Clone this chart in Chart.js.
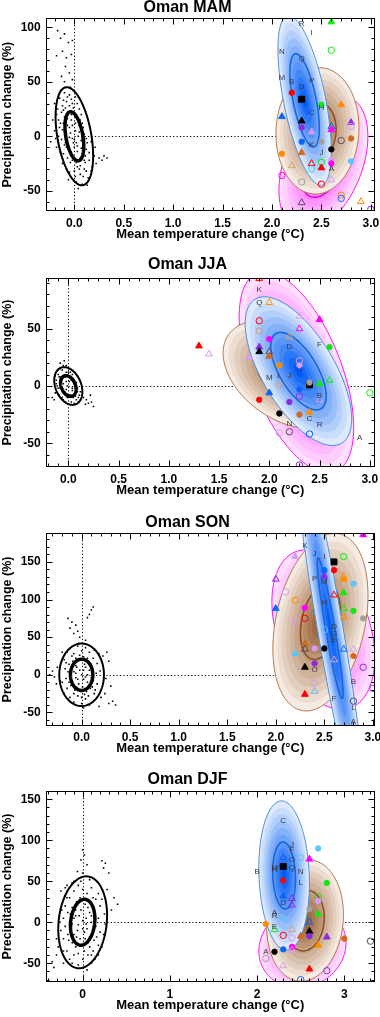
<!DOCTYPE html>
<html lang="en">
<head>
<meta charset="UTF-8">
<title>Oman seasonal temperature and precipitation change</title>
<script src="https://cdn.jsdelivr.net/npm/chart.js@4"></script>
<style>
  body { margin: 0; background: #fff; width: 380px; height: 1017px; overflow: hidden; position: relative; }
  .panel { position: absolute; left: 0; width: 380px; }
  canvas { display: block; }
</style>
</head>
<body>
<div class="panel" id="p0"><canvas id="c0"></canvas></div>
<div class="panel" id="p1"><canvas id="c1"></canvas></div>
<div class="panel" id="p2"><canvas id="c2"></canvas></div>
<div class="panel" id="p3"><canvas id="c3"></canvas></div>

<script>
const FONT = '"Liberation Sans", Arial, Helvetica, sans-serif';

// ---- axes (ranges and tick labels) ----
const seasons = ['MAM', 'JJA', 'SON', 'DJF'];
const xRanges = [[-0.29, 3.04], [-0.225, 3.05], [-0.37, 3.02], [-0.424, 3.35]];
const yRanges = [[-68.6, 108.3], [-70.8, 94.4], [-67.6, 188], [-72.8, 160]];
const xTicksHalf = [0, 0.5, 1, 1.5, 2, 2.5, 3];
const xTicksWhole = [0, 1, 2, 3];
const yTicks100 = [-50, 0, 50, 100];
const yTicks50 = [-50, 0, 50];
const yTicks150 = [-50, 0, 50, 100, 150];

// ---- ellipses: [cx, cy, sx, sy, r, inner contour level] ----
// order: natural variability (black), magenta, brown, blue
const mamEll = [[0, 0, 0.19, 45, -0.4, 0.5], [2.52, -25, 0.45, 62, 0.4, 0.5], [2.46, 5, 0.42, 58, 0.05, 0.45], [2.33, 33, 0.27, 78, -0.6, 0.55]];
const jjaEll = [[0, 0, 0.14, 16.5, -0.3, 0.55], [2.27, 12, 0.57, 88, -0.55, 0.5], [2.15, 10, 0.61, 47, -0.4, 0.45], [2.29, 13, 0.53, 65, -0.64, 0.52]];
const sonEll = [[0, 0, 0.23, 41.5, 0, 0.5], [2.49, 60, 0.53, 106, -0.35, 0.5], [2.46, 70, 0.49, 118, 0.3, 0.42], [2.56, 62, 0.37, 260, -0.933, 0.36]];
const djfEll = [[0, 0, 0.28, 56, 0.15, 0.5], [2.52, -30, 0.5, 50, 0.1, 0.5], [2.55, 2, 0.44, 74, 0.1, 0.5], [2.31, 57, 0.29, 91, -0.1, 0.45]];

// ---- natural variability samples ----
const mamNoise = [[-0.17,97],[-0.14,90],[-0.1,94],[-0.06,86],[-0.02,88],[-0.12,78],[-0.18,74],[-0.08,72],[-0.03,75],[-0.09,64],[-0.05,58],[-0.13,55],[-0.1,50],[-0.02,52],
  [-0.2,30],[-0.18,20],[-0.15,35],[-0.12,28],[-0.1,40],[-0.08,32],[-0.05,38],[-0.02,30],[0.0,42],[-0.14,12],[-0.1,18],[-0.06,22],[-0.03,15],[0.02,20],[0.05,25],[0.08,12],
  [-0.2,5],[-0.16,0],[-0.12,6],[-0.08,2],[-0.05,8],[-0.02,-2],[0.01,5],[0.04,0],[0.07,-4],[0.1,2],[0.13,-6],[-0.18,-10],[-0.14,-15],[-0.1,-8],[-0.06,-12],[-0.03,-18],
  [0.0,-10],[0.03,-14],[0.06,-20],[0.09,-16],[0.12,-12],[0.15,-22],[-0.12,-25],[-0.08,-30],[-0.04,-24],[0.0,-32],[0.03,-28],[0.06,-35],[0.1,-30],[0.14,-38],[-0.06,-40],
  [0.02,-42],[0.08,-44],[0.18,-28],[0.2,-18],[0.22,-25],[0.25,-20],[0.28,-22],[0.3,-18],[0.33,-20],[0.21,-10],[0.17,-5],[-0.22,15],[-0.24,-5],[0.05,10],[-0.04,3],
  [0.02,-6],[-0.09,-3],[0.06,15],[-0.01,26],[-0.07,10],[0.04,-22],[-0.11,24],[0.11,-24],
  [-0.11,33],[-0.07,36],[-0.03,34],[0.01,36],[-0.13,22],[-0.09,26],[-0.05,28],[-0.01,21],[0.03,30],[0.07,20],[-0.15,8],[-0.11,12],[-0.07,16],[-0.03,20],[0.01,12],
  [0.05,4],[0.09,8],[0.12,-2],[-0.13,-3],[-0.09,-6],[-0.05,-1],[-0.01,-6],[0.03,-9],[0.07,-11],[0.11,-18],[-0.11,-16],[-0.07,-20],[-0.02,-22],[0.02,-24],[0.06,-27],
  [0.1,-22],[-0.05,-33],[0.01,-37],[0.05,-30],[0.09,-37],[0.12,-32],[-0.16,15],[-0.17,25],[-0.19,-2],[0.15,-15],[0.17,-32],[-0.14,42],[-0.04,45],[0.04,-48],[0.13,-45],
  [-0.02,10],[0.0,-3],[-0.08,-10],[0.08,-2],[-0.04,-14]];
const jjaNoise = [[-0.12,5],[-0.1,10],[-0.08,15],[-0.05,18],[-0.02,12],[0.0,8],[0.03,5],[0.06,2],[0.09,-2],[0.12,-5],[-0.1,-2],[-0.07,3],[-0.04,-5],[-0.01,0],[0.02,-8],
  [0.05,-10],[0.08,-12],[0.11,-8],[-0.06,-10],[-0.03,-14],[0.0,-16],[0.04,-4],[-0.09,8],[-0.13,-6],[-0.16,-10],[-0.14,-12],[0.15,-10],[0.18,-12],[0.2,-15],[0.23,-14],
  [0.25,-18],[0.22,-8],[0.17,-16],[-0.04,22],[-0.08,20],[0.06,12],[0.01,15],[-0.02,4],[0.07,-6],[-0.06,6],[-0.11,0],[0.1,-14],[-0.03,8],[0.04,10],
  [-0.1,14],[-0.06,14],[-0.02,18],[0.02,12],[0.05,6],[0.08,3],[-0.12,2],[-0.08,-2],[-0.05,2],[-0.02,-3],[0.01,4],[0.04,-2],[0.07,-9],[0.1,-10],[-0.09,-8],
  [-0.05,-12],[-0.01,-10],[0.03,-14],[0.06,-15],[-0.13,9],[0.12,-12],[0.0,12],[-0.07,8],[0.09,-5]];
const sonNoise = [[-0.14,75],[-0.1,70],[-0.06,66],[-0.12,62],[-0.04,58],[-0.08,55],[0.08,80],[0.1,86],[0.12,90],[0.06,76],[-0.02,50],[0.04,46],
  [-0.3,5],[-0.28,-3],[-0.25,10],[-0.33,0],[-0.22,-8],[-0.26,-12],[0.22,25],[0.26,30],[0.28,18],[0.25,-5],[0.3,-15],[0.24,-25],[0.32,-35],[0.28,-38],[0.2,-30],[0.35,-40],[0.18,-42],
  [-0.18,20],[-0.15,30],[-0.12,35],[-0.08,28],[-0.04,38],[0.0,32],[0.04,36],[0.08,30],[0.12,22],[0.16,15],[-0.17,8],[-0.13,14],[-0.09,18],[-0.05,10],[-0.01,20],[0.03,14],
  [0.07,18],[0.11,8],[0.15,2],[-0.16,-5],[-0.12,-2],[-0.08,4],[-0.04,-6],[0.0,0],[0.04,-3],[0.08,6],[0.12,-8],[0.16,-12],[-0.15,-18],[-0.11,-14],[-0.07,-20],[-0.03,-12],
  [0.01,-16],[0.05,-22],[0.09,-18],[0.13,-25],[-0.12,-30],[-0.08,-36],[-0.04,-28],[0.0,-38],[0.04,-32],[0.08,-40],[-0.2,-10],[0.19,5],[-0.06,12],[0.02,6],[-0.1,-8],[0.06,-10],
  [-0.1,25],[-0.06,22],[-0.02,26],[0.02,24],[0.06,22],[0.1,14],[-0.14,4],[-0.1,8],[-0.06,2],[-0.02,6],[0.02,-6],[0.06,0],[0.1,-4],[-0.13,-10],[-0.09,-14],[-0.05,-17],
  [-0.01,-22],[0.03,-26],[0.07,-28],[0.11,-16],[-0.08,-25],[0.0,-30],[0.14,-20],[-0.18,-25],[-0.2,30],[0.18,28],[0.2,-20],[-0.03,42],[0.02,-44],[-0.14,-32],[0.13,33],
  [-0.06,-4],[0.04,10],[-0.16,16]];
const djfNoise = [[0.0,88],[0.02,82],[-0.02,76],[0.05,70],[-0.06,62],[0.0,60],[-0.12,48],[-0.2,42],[-0.25,38],[-0.18,30],[0.22,75],[0.26,72],[0.24,66],[0.3,60],[0.36,30],
  [0.4,22],[0.33,15],[0.28,40],[-0.3,-40],[-0.35,-48],[-0.33,-55],[-0.28,-30],[-0.22,-50],[-0.15,-45],[0.1,-50],[0.05,-58],[0.18,-40],[0.22,-30],
  [-0.2,20],[-0.15,30],[-0.1,38],[-0.05,45],[0.0,40],[0.05,35],[0.1,42],[0.15,28],[0.2,20],[0.25,10],[-0.22,5],[-0.17,12],[-0.12,18],[-0.07,25],[-0.02,15],[0.03,22],
  [0.08,12],[0.13,18],[0.18,5],[-0.25,-10],[-0.2,-5],[-0.15,0],[-0.1,5],[-0.05,-3],[0.0,2],[0.05,-8],[0.1,0],[0.15,-5],[0.2,-12],[-0.22,-20],[-0.17,-15],[-0.12,-25],
  [-0.07,-18],[-0.02,-28],[0.03,-20],[0.08,-30],[0.13,-22],[0.18,-28],[-0.18,-35],[-0.1,-40],[-0.05,-38],[0.0,-45],[0.06,-40],[0.12,-35],[-0.08,8],[0.02,-12],[-0.14,-8],[0.11,-15],
  [-0.18,45],[-0.1,50],[0.08,52],[0.12,30],[0.18,35],[0.22,28],[-0.2,32],[-0.24,15],[-0.14,10],[-0.08,15],[-0.03,30],[0.02,28],[0.06,18],[0.1,8],[0.14,12],[-0.12,-2],
  [-0.06,-10],[0.0,-8],[0.04,-2],[0.08,-18],[0.12,-8],[-0.16,-22],[-0.08,-30],[-0.03,-20],[0.02,-35],[0.06,-25],[0.1,-40],[-0.22,-35],[-0.12,-50],[-0.05,-52],[0.14,-45],
  [0.24,-15],[0.26,-2],[-0.26,0],[-0.3,-20],[-0.02,50],[0.04,5],[-0.1,-15],[0.16,-18],[-0.04,8]];

// ---- model results: [model marker, temperature change, precipitation change] ----
const mamMarks = [['tGreen',2.6,105],['oGreen',2.6,79],['cRed',2.2,40],['sBlack',2.3,34],['cGreen',2.5,29],['tOrange',2.7,29],['tBlue',2.1,18],['tBlack',2.3,14],
  ['tPurple',2.8,12.5],['cPurple',2.3,8],['tPlum',2.4,4],['vBlue',2.6,9],['tMagenta',2.6,6],['oPlum',2.8,9],['oDark',2.7,-4],['cBrown',2.8,-2],['cBlue',2.3,-5],
  ['cGray',2.5,-5],['cBlack',2.6,-12],['cOrange',2.1,-16],['tBrown',2.3,-15],['cSky',2.8,-23],['vRed',2.4,-25],['oGreen',2.5,-24],['cPlum',2.6,-22],['cMagenta',2.6,-25],
  ['tRed',2.5,-29],['vTan',2.2,-27],['oSky',2.4,-30],['vPlum',2.6,-40],['oMagenta',2.1,-36],['oGray',2.3,-42],['oRed',2.5,-44],['oOrange',2.7,-54],['oBlue',2.7,-57],
  ['vDark',2.3,-61],['vOrange',2.9,-60],['oPurple',3.0,-67]];
const jjaMarks = [['tRed',1.3,35],['vPlum',1.4,28],['vRed',1.9,94],['vOrange',2.0,73],['oRed',1.9,57],['oTan',1.9,48],['vPlum',2.3,61],['vMagenta',2.3,50],
  ['tMagenta',2.5,58],['cMagenta',2.0,41],['vTan',2.2,43],['cGreen',2.6,34],['tPurple',1.9,34],['tBlack',1.9,30],['vDark',2.0,30],['tBrown',2.0,26],['tPlum',1.8,25],
  ['cOrange',2.1,18],['oPlum',2.3,22],['cPlum',2.3,18],['oTan',2.1,1],['sBlack',2.4,1],['cGray',2.4,3],['tGreen',2.5,2],['vGreen',2.6,5],['oGreen',3.0,-6],
  ['tBlue',2.0,-6],['cBlue',2.3,-3],['oPurple',2.3,-9],['vPlum',2.5,-12],['cRed',1.9,-12],['cPurple',2.2,-14],['cBlack',2.1,-24],['cBrown',2.3,-25],['tOrange',2.4,-23],
  ['oPlum',2.1,-41],['oDark',2.2,-40],['oBlue',2.4,-42],['oPurple',2.3,-69]];
const sonMarks = [['tMagenta',2.9,186],['tPlum',2.2,157],['sBlack',2.6,150],['oGreen',2.7,157],['cBlue',2.5,139],['cRed',2.6,139],['vPurple',2.0,127],['tPurple',2.5,131],
  ['vOrange',2.7,131],['tOrange',2.7,127],['cSky',2.8,121],['oPlum',2.1,110],['vRed',2.6,106],['tGreen',2.7,109],['oOrange',2.2,99],['tBlue',2.0,88],['cMagenta',2.3,89],
  ['vGreen',2.7,88],['cGreen',2.8,85],['oRed',2.3,75],['vOrange',2.7,77],['cGray',2.9,75],['oPlum',2.2,71],['oSky',2.5,60],['tBrown',2.3,41],['vDark',2.3,34],
  ['cPlum',2.4,35],['cBlack',2.5,35],['vBlue',2.7,34],['vPlum',2.8,34],['tSky',2.2,28],['cBrown',2.8,25],['vPlum',2.6,20],['tBlack',2.3,10],['cPurple',2.4,15],
  ['oPurple',2.9,10],['oPlum',2.4,-11],['vSky',2.4,-22],['oPurple',3.0,-18],['tRed',2.3,-26],['oDark',2.8,-35]];
const djfMarks = [['cSky',2.7,90],['vBlue',2.3,79],['oSky',2.5,79],['tMagenta',2.6,77],['sBlack',2.3,68],['cRed',2.3,51],['cGreen',2.8,48],['tBlue',2.3,32],
  ['oGreen',2.7,31],['cPlum',2.7,26],['vPurple',2.4,29],['vPurple',2.4,21],['cGray',2.6,16],['tGreen',2.7,10],['vSky',2.3,5],['vBlue',2.6,0],['cOrange',2.1,-2],
  ['tBlack',2.6,-11],['vTan',2.4,-9],['vGreen',2.2,-9],['tBrown',2.5,-17],['cPurple',2.6,-17],['tPurple',2.8,-18],['tOrange',2.7,-28],['oRed',2.3,-16],['oPlum',2.4,-19],
  ['cMagenta',2.4,-30],['vPlum',2.4,-34],['cBlue',2.3,-33],['cBlack',2.2,-36],['cBrown',3.0,-20],['oDark',3.3,-23],['vPlum',2.3,-53],['oGray',2.1,-44],
  ['tRed',2.6,-57],['oPurple',2.8,-59],['oBlue',2.5,-70]];

// ---- model letters ----
const mamLetters = [['R',2.3,103],['I',2.4,95],['N',2.1,78],['Q',2.3,71],['M',2.1,54],['B',2.2,50],['P',2.4,51],['D',2.3,45],['C',2.4,22],['H',2.5,26],
  ['K',2.4,-8],['J',2.5,-15],['A',2.6,-30]];
const jjaLetters = [['K',1.9,84],['Q',1.9,73],['D',2.2,34],['F',2.5,36],['H',2.3,14],['L',2.1,9],['J',2.2,9],['M',2.0,7],['B',2.5,-9],['C',2.4,-29],
  ['R',2.5,-34],['N',2.2,-33],['A',2.9,-45]];
const sonLetters = [['K',2.3,171],['J',2.4,161],['I',2.5,157],['P',2.4,128],['M',2.5,124],['H',2.5,96],['D',2.6,64],['G',2.6,55],['E',2.6,47],['O',2.4,7],
  ['B',2.8,-9],['F',2.6,-32],['L',2.8,-44],['A',2.8,-63]];
const djfLetters = [['C',2.3,124],['J',2.4,95],['F',2.4,88],['O',2.4,76],['Q',2.4,67],['N',2.5,61],['L',2.5,48],['M',2.2,67],['H',2.2,64],['B',2.0,61],
  ['D',2.3,24],['A',2.2,11],['R',2.2,8],['E',2.2,-5],['A',2.1,-36]];

// ---- looks ----
const colours = {
  Red: '#ff0000', Green: '#14e614', Blue: '#0a64ff', Black: '#000000', Purple: '#8a2be2', Magenta: '#ff00ff',
  Orange: '#ff8c00', Brown: '#d2691e', Gray: '#a0a0a0', Sky: '#5ac8fa', Plum: '#d59cf0', Tan: '#d8a070', Dark: '#5a4a5a'
};
const shades = {
  magenta: { light: [255, 224, 255], dark: [255, 40, 255], edge: '#ff10ff', core: '#e000e0' },
  brown: { light: [245, 235, 226], dark: [150, 92, 45], edge: '#b27a52', core: '#8a4e20' },
  blue: { light: [222, 234, 252], dark: [0, 92, 245], edge: '#4a8fe0', core: '#1464dc' }
};

const panels = [
  { xr: xRanges[0], yr: yRanges[0], xt: xTicksHalf, yt: yTicks100, titleY: 8, top: 18.3, bottom: 211, ell: mamEll, noise: mamNoise, marks: mamMarks, letters: mamLetters },
  { xr: xRanges[1], yr: yRanges[1], xt: xTicksHalf, yt: yTicks50, titleY: 265, top: 278, bottom: 467, ell: jjaEll, noise: jjaNoise, marks: jjaMarks, letters: jjaLetters },
  { xr: xRanges[2], yr: yRanges[2], xt: xTicksHalf, yt: yTicks150, titleY: 522.7, top: 533.3, bottom: 725.7, ell: sonEll, noise: sonNoise, marks: sonMarks, letters: sonLetters },
  { xr: xRanges[3], yr: yRanges[3], xt: xTicksWhole, yt: yTicks150, titleY: 779.3, top: 791, bottom: 982, ell: djfEll, noise: djfNoise, marks: djfMarks, letters: djfLetters }
];

function mix(a, b, t) {
  return 'rgb(' + a.map((v, i) => Math.round(v + (b[i] - v) * t)).join(',') + ')';
}

function ellipsePath(ctx, xs, ys, e, k) {
  const s = Math.sqrt(1 - e[4] * e[4]);
  ctx.beginPath();
  for (let i = 0; i <= 120; i++) {
    const t = i / 120 * Math.PI * 2;
    const px = xs.getPixelForValue(e[0] + e[2] * k * Math.cos(t));
    const py = ys.getPixelForValue(e[1] + e[3] * k * (e[4] * Math.cos(t) + s * Math.sin(t)));
    if (i === 0) ctx.moveTo(px, py); else ctx.lineTo(px, py);
  }
  ctx.closePath();
}

function makeDecor(p) {
  return {
    id: 'decor',
    beforeDatasetsDraw(chart) {
      const { ctx, chartArea: a, scales: { x, y } } = chart;
      ctx.save();
      ctx.beginPath(); ctx.rect(a.left, a.top, a.right - a.left, a.bottom - a.top); ctx.clip();
      // zero lines
      const x0 = Math.round(x.getPixelForValue(0)) + 0.5;
      const y0 = Math.round(y.getPixelForValue(0)) + 0.5;
      ctx.strokeStyle = '#000'; ctx.lineWidth = 1; ctx.setLineDash([1.2, 2.2]);
      ctx.beginPath();
      ctx.moveTo(x0, a.top); ctx.lineTo(x0, a.bottom);
      ctx.moveTo(x0, y0); ctx.lineTo(a.right, y0);
      ctx.stroke();
      ctx.setLineDash([]);
      // shaded model ellipses
      ['magenta', 'brown', 'blue'].forEach((name, i) => {
        const e = p.ell[i + 1], sh = shades[name], n = 11;
        for (let b = 0; b < n; b++) {
          ellipsePath(ctx, x, y, e, 1 - b / n);
          ctx.fillStyle = mix(sh.light, sh.dark, b / (n - 1));
          ctx.fill();
        }
        ellipsePath(ctx, x, y, e, 1);
        ctx.strokeStyle = sh.edge; ctx.lineWidth = 1; ctx.stroke();
        ellipsePath(ctx, x, y, e, e[5]);
        ctx.strokeStyle = sh.core; ctx.lineWidth = 1.5; ctx.stroke();
      });
      ctx.restore();
    },
    afterDatasetsDraw(chart) {
      const { ctx, chartArea: a, scales: { x, y } } = chart;
      ctx.save();
      ctx.beginPath(); ctx.rect(a.left, a.top, a.right - a.left, a.bottom - a.top); ctx.clip();
      const e = p.ell[0];
      ctx.strokeStyle = '#000';
      ellipsePath(ctx, x, y, e, 1); ctx.lineWidth = 2; ctx.stroke();
      ellipsePath(ctx, x, y, e, e[5]); ctx.lineWidth = 3.5; ctx.stroke();
      ctx.fillStyle = '#3a3a3a';
      ctx.font = '8px ' + FONT;
      ctx.textAlign = 'center'; ctx.textBaseline = 'middle';
      p.letters.forEach(l => ctx.fillText(l[0], x.getPixelForValue(l[1]), y.getPixelForValue(l[2])));
      ctx.restore();
    },
    afterDraw(chart) {
      const { ctx, chartArea: a, scales: { x, y } } = chart;
      ctx.save();
      ctx.strokeStyle = '#000'; ctx.lineWidth = 1;
      const L = Math.round(a.left) + 0.5, R = Math.round(a.right) - 0.5;
      const T = Math.round(a.top) + 0.5, B = Math.round(a.bottom) - 0.5;
      ctx.strokeRect(L, T, R - L, B - T);
      ctx.beginPath();
      for (let v = Math.ceil(p.xr[0] * 10); v <= p.xr[1] * 10 + 1e-6; v++) {
        const val = v / 10, px = Math.round(x.getPixelForValue(val)) + 0.5;
        const len = p.xt.some(t => Math.abs(t - val) < 1e-6) ? 6 : 3;
        ctx.moveTo(px, B); ctx.lineTo(px, B - len);
        ctx.moveTo(px, T); ctx.lineTo(px, T + len);
      }
      for (let v = Math.ceil(p.yr[0] / 10); v <= p.yr[1] / 10; v++) {
        const val = v * 10, py = Math.round(y.getPixelForValue(val)) + 0.5;
        const len = p.yt.includes(val) ? 6 : 3;
        ctx.moveTo(L, py); ctx.lineTo(L + len, py);
        ctx.moveTo(R, py); ctx.lineTo(R - len, py);
      }
      ctx.stroke();
      ctx.restore();
    }
  };
}

function markStyle(key) {
  const kind = key[0], col = colours[key.slice(1)];
  return {
    shape: kind === 'c' || kind === 'o' ? 'circle' : kind === 's' ? 'rect' : 'triangle',
    radius: kind === 'c' ? 2.7 : kind === 'o' ? 3.2 : kind === 's' ? 4.2 : 3.9,
    fill: kind === 'o' || kind === 'v' ? 'rgba(0,0,0,0)' : col,
    line: col
  };
}

panels.forEach((p, i) => {
  const canvasTop = Math.round(p.titleY - 9.6);
  const relTop = p.top - canvasTop;
  const relBottom = p.bottom - canvasTop;
  const canvasH = Math.ceil(relBottom + 32);
  const xH = canvasH - relBottom;
  const holder = document.getElementById('p' + i);
  holder.style.top = canvasTop + 'px';
  const cv = document.getElementById('c' + i);
  cv.width = 380; cv.height = canvasH;
  cv.style.width = '380px'; cv.style.height = canvasH + 'px';

  new Chart(cv.getContext('2d'), {
    type: 'scatter',
    data: {
      datasets: [
        {
          label: 'models',
          data: p.marks.map(m => ({ x: m[1], y: m[2], k: m[0] })),
          pointStyle: c => c.raw ? markStyle(c.raw.k).shape : 'circle',
          pointRadius: c => c.raw ? markStyle(c.raw.k).radius : 3,
          backgroundColor: c => c.raw ? markStyle(c.raw.k).fill : '#000',
          borderColor: c => c.raw ? markStyle(c.raw.k).line : '#000',
          borderWidth: 1
        },
        {
          label: 'natural variability',
          data: p.noise.map(n => ({ x: n[0], y: n[1] })),
          pointStyle: 'rect',
          pointRadius: 1.1,
          backgroundColor: '#000',
          borderWidth: 0
        }
      ]
    },
    options: {
      responsive: false,
      animation: false,
      events: [],
      devicePixelRatio: 1,
      layout: { padding: { top: 0, left: 0, right: 5, bottom: 0 } },
      plugins: {
        legend: { display: false },
        tooltip: { enabled: false },
        title: {
          display: true,
          text: 'Oman ' + seasons[i],
          color: '#000',
          font: { family: FONT, size: 16, weight: 'bold' },
          padding: { top: 0, bottom: relTop - 19.2 }
        }
      },
      scales: {
        x: {
          type: 'linear', min: p.xr[0], max: p.xr[1],
          grid: { display: false, drawTicks: false }, border: { display: false },
          ticks: {
            color: '#000', font: { family: FONT, size: 12, weight: 'bold' }, padding: 5,
            autoSkip: false, maxRotation: 0,
            callback: v => p.xt === xTicksWhole ? String(v) : v.toFixed(1)
          },
          afterBuildTicks: s => { s.ticks = p.xt.map(v => ({ value: v })); },
          afterFit: s => { s.height = xH; s.paddingLeft = 0; s.paddingRight = 0; },
          title: {
            display: true, text: 'Mean temperature change (°C)', color: '#000',
            font: { family: FONT, size: 13, weight: 'bold' }, padding: { top: 0, bottom: xH - 30.8 }
          }
        },
        y: {
          type: 'linear', min: p.yr[0], max: p.yr[1],
          grid: { display: false, drawTicks: false }, border: { display: false },
          ticks: {
            color: '#000', font: { family: FONT, size: 12, weight: 'bold' }, padding: 5,
            callback: v => String(v)
          },
          afterBuildTicks: s => { s.ticks = p.yt.map(v => ({ value: v })); },
          afterFit: s => { s.width = 45.7; s.paddingTop = 0; s.paddingBottom = 0; },
          title: {
            display: true, text: 'Precipitation change (%)', color: '#000',
            font: { family: FONT, size: 12.5, weight: 'bold' }, padding: 0
          }
        }
      }
    },
    plugins: [makeDecor(p)]
  });
});
</script>
</body>
</html>
